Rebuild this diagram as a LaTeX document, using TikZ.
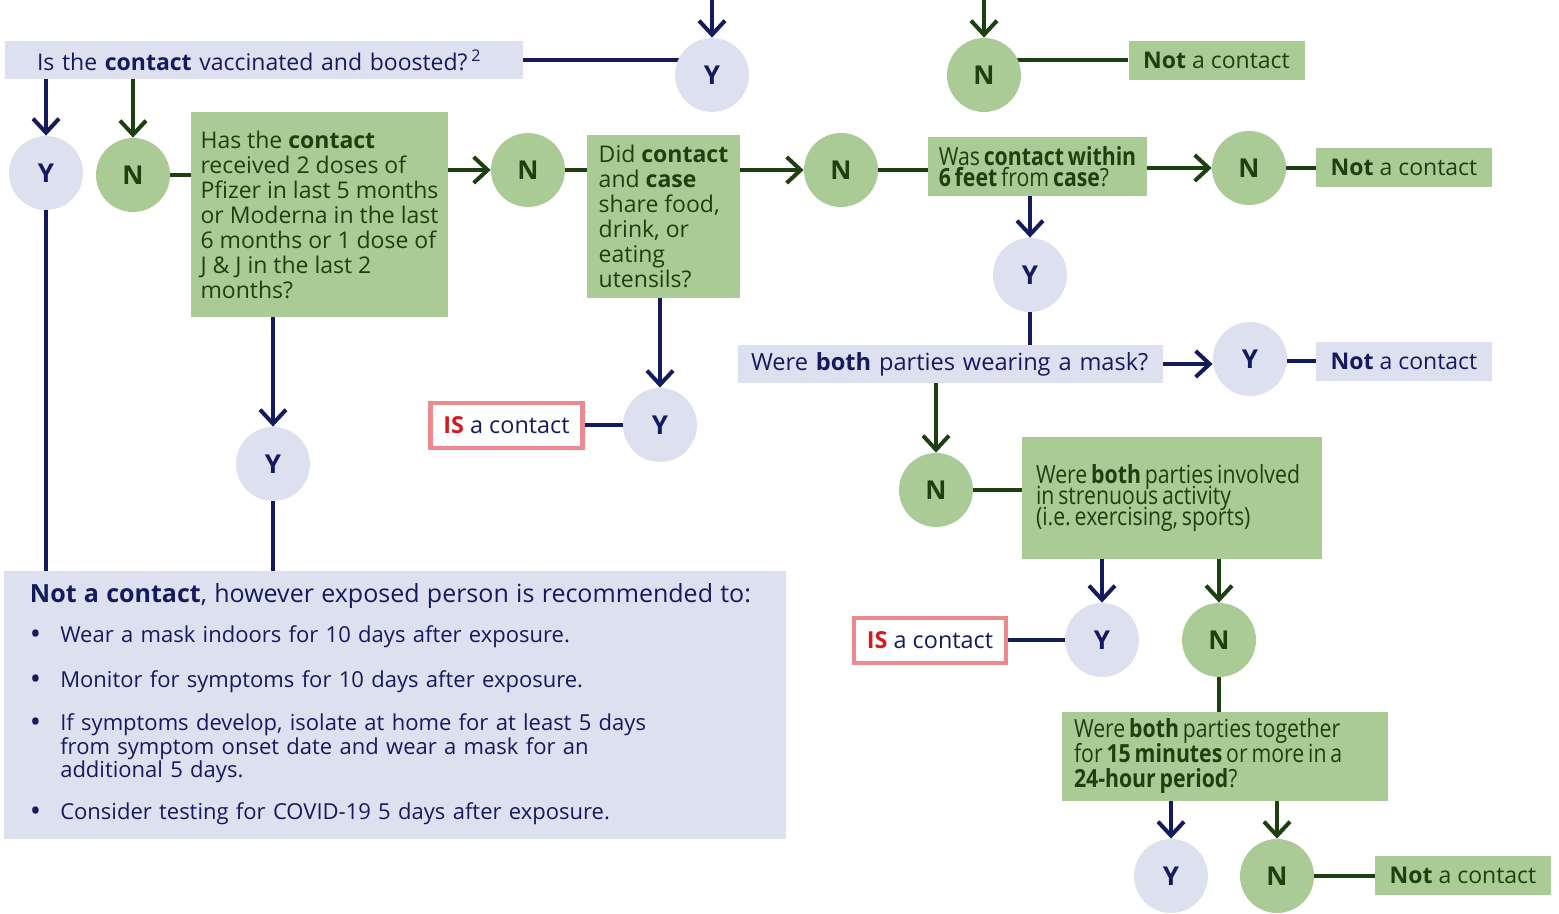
\documentclass[tikz,border=0pt]{standalone}
\usepackage{fontspec}
\setmainfont{Open Sans}
\newfontfamily\condfont{Open Sans}[FakeStretch=0.85, WordSpace=0.7]
\usetikzlibrary{arrows.meta, backgrounds}

\definecolor{navy}{HTML}{141A5E}
\definecolor{dgreen}{HTML}{1E3F10}
\definecolor{ylight}{HTML}{DDE0EF}
\definecolor{ngreen}{HTML}{AACB96}
\definecolor{isred}{HTML}{D7191F}
\definecolor{pinkb}{HTML}{EE8A8E}

\newcommand{\bigdot}{\raisebox{-1.2pt}{\fontsize{15}{11}\selectfont\textbullet}}
\newcommand{\tightlines}{\lineskiplimit=-20pt\relax}

\tikzset{
  ycirc/.style={circle, fill=ylight, text=navy, minimum size=37pt, inner sep=0pt,
    font=\bfseries\fontsize{13}{13}\selectfont},
  ncirc/.style={ycirc, fill=ngreen, text=dgreen},
  bluebox/.style={rectangle, fill=ylight, text=navy, inner ysep=0pt, align=left,
    font=\fontsize{11.5}{12.5}\selectfont},
  greenbox/.style={bluebox, fill=ngreen, text=dgreen},
  condbox/.style={greenbox, align=flush left, font=\condfont\fontsize{12.5}{10.5}\selectfont\tightlines},
  notbox/.style={minimum width=88pt, minimum height=19.5pt, inner xsep=0pt},
  isbox/.style={rectangle, draw=pinkb, line width=2.2pt, fill=white, text=navy,
    minimum width=76pt, minimum height=22.5pt, inner sep=0pt,
    font=\fontsize{11.7}{12.5}\selectfont},
  yline/.style={navy, line width=2pt},
  nline/.style={dgreen, line width=2pt},
  yarr/.style={-{Straight Barb[length=7pt,width=13pt]}},
  narr/.style={yarr}
}

\begin{document}
\begin{tikzpicture}[x=0.5pt, y=-0.5pt]
    \useasboundingbox (0,0) rectangle (1559,914);

    % free ends at the top
    \coordinate (yin) at (712,0);
    \coordinate (nin) at (984,0);

    % question boxes
    \node[bluebox, minimum width=259pt, minimum height=19pt, text width=227pt, inner xsep=16pt] (vacc) at (264,60)
        {Is the \textbf{contact} vaccinated and boosted?\,\textsuperscript{2}};
    \node[greenbox, minimum width=128.5pt, minimum height=102.5pt] (has) at (319.5,214.5)
        {Has the \textbf{contact}\\received 2 doses of\\Pfizer in last 5 months\\or Moderna in the last\\6 months or 1 dose of\\J \& J in the last 2\\months?};
    \node[greenbox, minimum width=76.5pt, minimum height=81.5pt] (did) at (663.5,216.5)
        {Did \textbf{contact}\\and \textbf{case}\\share food,\\drink, or\\eating\\utensils?};
    \node[condbox, minimum width=109.5pt, minimum height=29.5pt] (was) at (1037.5,166.5)
        {Was \textbf{contact within}\\\textbf{6 feet} from \textbf{case}?};
    \node[bluebox, minimum height=19pt, text width=199.5pt, inner xsep=6.5pt, font=\fontsize{11.8}{12.5}\selectfont] (mask) at (950.5,364)
        {Were \textbf{both} parties wearing a mask?};
    \node[condbox, minimum height=61pt, text width=136pt, inner xsep=7pt, font=\condfont\fontsize{12.5}{10.4}\selectfont\tightlines] (str) at (1172,498)
        {Were \textbf{both} parties involved\\in strenuous activity\\(i.e.\ exercising, sports)};
    \node[condbox, minimum height=44.5pt, text width=151pt, inner xsep=6pt, font=\condfont\fontsize{12.5}{12.5}\selectfont\tightlines] (tog) at (1225,756.5)
        {Were \textbf{both} parties together\\for \textbf{15 minutes} or more in a\\\textbf{24-hour period}?};

    % outcome boxes
    \node[greenbox, notbox] (nac1) at (1216.5,60.5) {\textbf{Not} a contact};
    \node[greenbox, notbox] (nac2) at (1404,167.5) {\textbf{Not} a contact};
    \node[bluebox, notbox] (nac3) at (1404,361.5) {\textbf{Not} a contact};
    \node[greenbox, notbox] (nac4) at (1463,875.5) {\textbf{Not} a contact};
    \node[isbox] (is1) at (506.5,425.5) {\textcolor{isred}{\textbf{IS}} a contact};
    \node[isbox] (is2) at (930,640.5) {\textcolor{isred}{\textbf{IS}} a contact};

    % advice box
    \node[bluebox, minimum height=134pt, text width=365pt, inner xsep=13pt, font=\fontsize{11}{11.25}\selectfont] (adv) at (395,705)
        {\begin{tabular}{@{}l@{\hspace{9.5pt}}l@{}}
         \multicolumn{2}{@{}l@{}}{\fontsize{12.5}{13}\selectfont\textbf{Not a contact}, however exposed person is recommended to:}\\[8pt]
         \bigdot & Wear a mask indoors for 10 days after exposure.\\[10.75pt]
         \bigdot & Monitor for symptoms for 10 days after exposure.\\[9.75pt]
         \bigdot & If symptoms develop, isolate at home for at least 5 days\\
                 & from symptom onset date and wear a mask for an\\
                 & additional 5 days.\\[9.25pt]
         \bigdot & Consider testing for COVID-19 5 days after exposure.
         \end{tabular}};

    % yes and no circles
    \node[ycirc] (ytop) at (712,75) {Y};
    \node[ncirc] (ntop) at (984,75) {N};
    \node[ycirc] (yv) at (46,173) {Y};
    \node[ncirc] (nv) at (133,175) {N};
    \node[ncirc] (nhas) at (528,170) {N};
    \node[ncirc] (ndid) at (841,170) {N};
    \node[ncirc] (nwas) at (1249,168) {N};
    \node[ycirc] (ywas) at (1030,275) {Y};
    \node[ycirc] (ymask) at (1250,359) {Y};
    \node[ycirc] (ydid) at (660,425) {Y};
    \node[ycirc] (yhas) at (273,464) {Y};
    \node[ncirc] (nmask) at (936,490) {N};
    \node[ycirc] (ystr) at (1102,640) {Y};
    \node[ncirc] (nstr) at (1219,640) {N};
    \node[ycirc] (ytog) at (1171,876) {Y};
    \node[ncirc] (ntog) at (1277,876) {N};

    \begin{scope}[on background layer]
        % first question
        \draw[yline, yarr] (yin) -- (ytop.north);
        \draw[nline, narr] (nin) -- (ntop.north);
        \draw[yline] (vacc.east) -- (vacc.east -| ytop.center);
        \draw[nline] (ntop.center |- nac1.west) -- (nac1.west);
        \draw[yline, yarr] (yv |- vacc.south) -- (yv.north);
        \draw[nline, narr] (nv |- vacc.south) -- (nv.north);
        \draw[yline] (yv.center) -- (yv |- adv.north);

        % doses
        \draw[nline] (nv.center) -- (nv -| has.west);
        \draw[nline, narr] (nhas -| has.east) -- (nhas.west);
        \draw[yline, yarr] (yhas |- has.south) -- (yhas.north);
        \draw[yline] (yhas.center) -- (yhas |- adv.north);

        % shared food
        \draw[nline] (nhas.center) -- (nhas -| did.west);
        \draw[nline, narr] (ndid -| did.east) -- (ndid.west);
        \draw[yline, yarr] (ydid |- did.south) -- (ydid.north);
        \draw[yline] (ydid.center) -- (ydid -| is1.east);

        % distance
        \draw[nline] (ndid.center) -- (ndid -| was.west);
        \draw[nline, narr] (nwas -| was.east) -- (nwas.west);
        \draw[nline] (nwas.center) -- (nwas -| nac2.west);
        \draw[yline, yarr] (ywas |- was.south) -- (ywas.north);
        \draw[yline] (ywas.center) -- (ywas |- mask.north);

        % masks
        \draw[yline, yarr] (mask.east) -- (mask.east -| ymask.west);
        \draw[yline] (ymask.center |- nac3.west) -- (nac3.west);
        \draw[nline, narr] (nmask |- mask.south) -- (nmask.north);
        \draw[nline] (nmask.center) -- (nmask -| str.west);

        % strenuous activity
        \draw[yline, yarr] (ystr |- str.south) -- (ystr.north);
        \draw[yline] (ystr.center) -- (ystr -| is2.east);
        \draw[nline, narr] (nstr |- str.south) -- (nstr.north);
        \draw[nline] (nstr.center) -- (nstr |- tog.north);

        % time together
        \draw[yline, yarr] (ytog |- tog.south) -- (ytog.north);
        \draw[nline, narr] (ntog |- tog.south) -- (ntog.north);
        \draw[nline] (ntog.center) -- (ntog -| nac4.west);
    \end{scope}
\end{tikzpicture}
\end{document}
